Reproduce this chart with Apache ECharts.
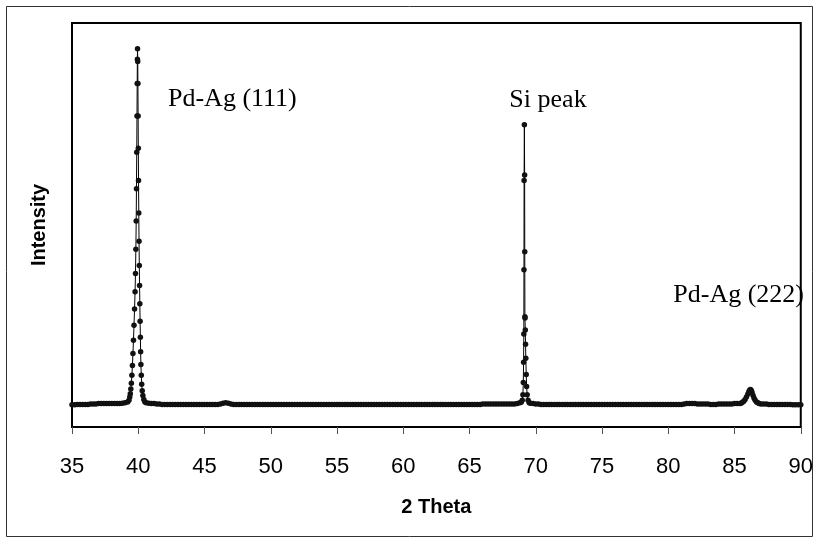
<!DOCTYPE html>
<html>
<head>
<meta charset="utf-8">
<script src="https://cdn.jsdelivr.net/npm/echarts@6/dist/echarts.min.js"></script>
<style>
html,body{margin:0;padding:0;background:#fff;}
#chart{width:816px;height:539px;}
</style>
</head>
<body>
<div id="chart"></div>
<script>
// X axis ticks
const xTicks = [35, 40, 45, 50, 55, 60, 65, 70, 75, 80, 85, 90];
const scanStep = 0.2;

// Background scan, 35.0 - 39.2
const seg1Start = 35.0;
const seg1Y = [55,55,56,56,56,56,56,57,57,57,58,58,58,58,58,58,58,58,58,59,60,62];

// Pd-Ag (111) peak region
const peak111X = [39.30,39.36,39.40,39.44,39.48,39.52,39.56,39.60,39.64,39.68,39.72,39.76,39.79,39.82,39.845,39.865,39.885,39.905,39.92,39.935,39.945,
                  39.96,39.975,39.99,40.005,40.02,40.04,40.06,40.08,40.10,40.12,40.14,40.16,40.18,40.20,40.23,40.26,40.30,40.35,40.42,40.50];
const peak111Y = [66,74,82,94,108,128,152,182,215,252,292,335,380,440,510,590,680,770,850,910,936,
                  905,850,770,690,610,530,460,400,350,305,262,222,186,155,128,106,90,78,68,62];

// Background scan, 40.6 - 68.8
const seg2Start = 40.6;
const seg2Y = [60,59,58,58,57,57,
  56,56,56,56,56,56,56,56,56,56,56,56,56,56,56,56,56,56,56,56,56,56,
  57,59,60,59,57,
  56,56,56,56,56,56,56,56,56,56, 56,56,56,56,56,56,56,56,56,56,
  56,56,56,56,56,56,56,56,56,56, 56,56,56,56,56,56,56,56,56,56,
  56,56,56,56,56,56,56,56,56,56, 56,56,56,56,56,56,56,56,56,56,
  56,56,56,56,56,56,56,56,56,56, 56,56,56,56,56,56,56,56,56,56,
  56,56,56,56,56,56,56,56,56,56, 56,56,56,56,
  57,57,57,57,57,57,57,57,57,57,57,57,
  57,58,60];

// Si peak region
const peakSiX = [68.90,68.98,69.03,69.06,69.08,69.10,69.11,69.12,69.14,69.16,69.17,69.18,69.19,69.21,69.23,69.25,69.28,69.31,69.35,69.42,69.50];
const peakSiY = [61,66,80,110,160,230,389,610,748,624,434,273,270,240,205,170,130,100,80,66,60];

// Background scan, 69.6 - 85.4
const seg3Start = 69.6;
const seg3Y = [59,58,57,57,56,
  56,56,56,56,56,56,56,56,56,56, 56,56,56,56,56,56,56,56,56,56,
  56,56,56,56,56,56,56,56,56,56, 56,56,56,56,56,56,56,56,56,56,
  56,56,56,56,56,56,56,56,56,56, 56,56,56,
  57,58,58,58,58,57,57,57,57,57,56,
  56,56,57,57,57,57,
  57,57,58,58,58];

// Pd-Ag (222) peak region
const peak222X = [85.50,85.60,85.70,85.80,85.90,86.00,86.08,86.14,86.20,86.26,86.32,86.40,86.48,86.56,86.66,86.76,86.86];
const peak222Y = [59,61,64,68,74,81,87,91,93,91,86,78,71,66,62,60,58];

// Background scan, 87.0 - 90.0
const seg4Start = 87.0;
const seg4Y = [57,57,57,56,56,56,56,56,56,56,56,56,55,55,55,55];

// Annotations
const labels = ['Pd-Ag (111)', 'Si peak', 'Pd-Ag (222)'];

function scan(start, ys) {
  return ys.map((y, i) => [Math.round((start + i * scanStep) * 100) / 100, y]);
}
function pairs(xs, ys) {
  return xs.map((x, i) => [x, ys[i]]);
}
const data = [].concat(
  scan(seg1Start, seg1Y),
  pairs(peak111X, peak111Y),
  scan(seg2Start, seg2Y),
  pairs(peakSiX, peakSiY),
  scan(seg3Start, seg3Y),
  pairs(peak222X, peak222Y),
  scan(seg4Start, seg4Y)
).sort((a, b) => a[0] - b[0]);

const chart = echarts.init(document.getElementById('chart'), null, {renderer: 'canvas'});
chart.setOption({
  animation: false,
  backgroundColor: '#fff',
  grid: {
    left: 72, right: 13, top: 23, bottom: 112,
    show: true, borderColor: '#000', borderWidth: 2, backgroundColor: 'transparent'
  },
  xAxis: {
    type: 'value',
    min: xTicks[0], max: xTicks[xTicks.length - 1], interval: 5,
    axisLine: {show: true, lineStyle: {color: '#000', width: 2}},
    axisTick: {show: true, inside: false, length: 7, lineStyle: {color: '#555', width: 1}},
    axisLabel: {color: '#000', fontFamily: 'Liberation Sans', fontSize: 22, margin: 29},
    splitLine: {show: false},
    name: '2 Theta', nameLocation: 'middle', nameGap: 70,
    nameTextStyle: {color: '#000', fontFamily: 'Liberation Sans', fontWeight: 'bold', fontSize: 20}
  },
  yAxis: {
    type: 'value', min: 0, max: 1000,
    axisLine: {show: true, lineStyle: {color: '#000', width: 2}},
    axisTick: {show: false},
    axisLabel: {show: false},
    splitLine: {show: false},
    name: 'Intensity', nameLocation: 'middle', nameGap: 23,
    nameTextStyle: {color: '#000', fontFamily: 'Liberation Sans', fontWeight: 'bold', fontSize: 20}
  },
  series: [{
    type: 'line',
    data: data,
    symbol: 'circle',
    symbolSize: 5.5,
    showSymbol: true,
    showAllSymbol: true,
    sampling: null,
    lineStyle: {color: '#000', width: 1},
    itemStyle: {color: '#111', borderWidth: 0},
    emphasis: {disabled: true}
  }],
  graphic: [
    {type: 'rect', shape: {x: 6.5, y: 6.5, width: 806, height: 530}, style: {fill: 'none', stroke: '#333', lineWidth: 1}, silent: true},
    {type: 'text', x: 168, y: 99, style: {text: labels[0], font: '26px "Liberation Serif"', fill: '#000', align: 'left', verticalAlign: 'middle'}},
    {type: 'text', x: 548, y: 100, style: {text: labels[1], font: '26px "Liberation Serif"', fill: '#000', align: 'center', verticalAlign: 'middle'}},
    {type: 'text', x: 804, y: 295, style: {text: labels[2], font: '26px "Liberation Serif"', fill: '#000', align: 'right', verticalAlign: 'middle'}}
  ]
});
</script>
</body>
</html>
